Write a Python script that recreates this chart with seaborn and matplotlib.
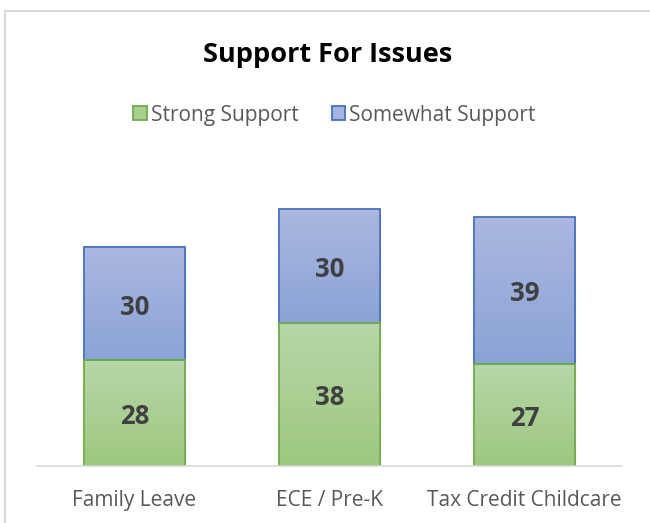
import numpy as np
import pandas as pd
import matplotlib
matplotlib.use("Agg")
import matplotlib.pyplot as plt
from matplotlib.patches import Rectangle
from matplotlib.colors import LinearSegmentedColormap
import seaborn as sns

categories = ["Family Leave", "ECE / Pre-K", "Tax Credit Childcare"]
strong = [28, 38, 27]
somewhat = [30, 30, 39]
series_names = ["Strong Support", "Somewhat Support"]
title = "Support For Issues"

sns.set_theme(style="white")
plt.rcParams['font.family'] = ['Open Sans', 'DejaVu Sans']

W, H = 650, 523
fig = plt.figure(figsize=(W / 100, H / 100), dpi=100)
ax = fig.add_axes([37 / W, (H - 466) / H, (622 - 37) / W, (466 - 164) / H])

df = pd.DataFrame({"cat": categories, "strong": strong, "somewhat": somewhat})
df["total"] = df["strong"] + df["somewhat"]

green_edge = "#70ad47"
blue_edge = "#4472c4"
sns.barplot(data=df, x="cat", y="total", ax=ax, color="#9dc3e6", width=0.52,
            edgecolor=blue_edge, linewidth=1.3, saturation=1)
n_top = len(ax.patches)
sns.barplot(data=df, x="cat", y="strong", ax=ax, color="#a9d18e", width=0.52,
            edgecolor=green_edge, linewidth=1.3, saturation=1)

ax.set_ylim(0, 80)
ax.set_xlim(-0.5, 2.5)

green_cmap = LinearSegmentedColormap.from_list("g", ["#9ec87f", "#b6d7a8"])
blue_cmap = LinearSegmentedColormap.from_list("b", ["#8aa3d7", "#abb8df"])

grad = np.linspace(0, 1, 256).reshape(-1, 1)
for i, p in enumerate(list(ax.patches)):
    if i < n_top:
        cmap = blue_cmap
        j = i
        y0, y1 = strong[j], strong[j] + somewhat[j]
    else:
        cmap = green_cmap
        y0, y1 = 0, p.get_height()
    x0 = p.get_x()
    w = p.get_width()
    im = ax.imshow(grad, cmap=cmap, aspect="auto", origin="lower",
                   extent=[x0, x0 + w, y0, y1], zorder=p.get_zorder() + 0.1)
    clip = Rectangle((x0, y0), w, y1 - y0, transform=ax.transData)
    im.set_clip_path(clip)
    edge = Rectangle((x0, y0), w, y1 - y0, fill=False,
                     edgecolor=blue_edge if i < n_top else green_edge,
                     linewidth=1.3, zorder=p.get_zorder() + 0.2)
    ax.add_patch(edge)
    p.set_visible(False)

ax.set_xlim(-0.5, 2.5)
ax.set_ylim(0, 80)

for i in range(len(categories)):
    for val, ypos in [(strong[i], strong[i] / 2), (somewhat[i], strong[i] + somewhat[i] / 2)]:
        ax.annotate(str(val), xy=(i, ypos), xytext=(0, -2.5), textcoords="offset points",
                    ha="center", va="center", fontsize=18.5, fontweight="bold",
                    color="#404040", zorder=10)

for s in ["top", "right", "left"]:
    ax.spines[s].set_visible(False)
ax.spines["bottom"].set_color("#d9d9d9")
ax.spines["bottom"].set_linewidth(1.2)
ax.set_yticks([])
ax.set_xlabel("")
ax.set_ylabel("")
ax.tick_params(axis="x", length=0, pad=17, labelsize=15, labelcolor="#595959")

fig.text(328 / W, 1 - 55 / H, title, ha="center", va="center",
         fontsize=19.5, fontweight="bold", color="#000000")

handles = [Rectangle((0, 0), 1, 1, facecolor="#a9d18e", edgecolor=green_edge, linewidth=1.3),
           Rectangle((0, 0), 1, 1, facecolor="#a3b4e0", edgecolor=blue_edge, linewidth=1.3)]
leg = fig.legend(handles, series_names, loc="center", bbox_to_anchor=(334.5 / W, 1 - 115 / H),
                 ncol=2, frameon=False, fontsize=15, handlelength=0.63, handleheight=0.63,
                 handletextpad=0.2, columnspacing=1.6)
for t in leg.get_texts():
    t.set_color("#595959")

fig.patches.append(Rectangle((5 / W, -0.1), 1.2, (H - 11) / H + 0.1, transform=fig.transFigure,
                             fill=False, edgecolor="#d9d9d9", linewidth=1.5))

fig.savefig("out.png", dpi=100, facecolor="white")
